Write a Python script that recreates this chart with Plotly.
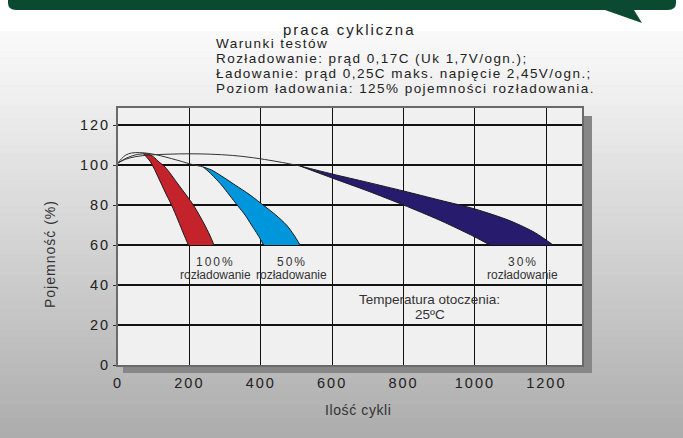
import plotly.graph_objects as go

# ---------------- data ----------------
x_ticks = [0, 200, 400, 600, 800, 1000, 1200]
y_ticks = [0, 20, 40, 60, 80, 100, 120]

# thin initial curves (cycles, capacity %)
line_red_x = [0, 12, 25, 40, 55, 71]
line_red_v = [101, 102.3, 103.6, 104.6, 105.3, 105.6]
line_blue_x = [0, 10, 22, 38, 60, 90, 120, 150, 180, 205, 225, 239]
line_blue_v = [101, 103.2, 105.0, 106.0, 106.2, 105.7, 104.6, 103.2, 101.7, 100.4, 99.6, 99.0]
line_purple_x = [0, 20, 50, 90, 140, 200, 260, 320, 380, 440, 480, 510]
line_purple_v = [101, 102.8, 104.2, 105.0, 105.4, 105.6, 105.4, 104.8, 103.6, 101.9, 100.6, 99.5]

# 100% discharge band
red_left_x = [71, 80, 90, 99, 115, 132, 150, 168, 184, 197]
red_left_v = [105.6, 104, 101.8, 99, 93, 86.5, 80, 72.5, 65.5, 60]
red_right_x = [71, 85, 100, 115, 132, 170, 211, 240, 257, 269]
red_right_v = [105.6, 105.5, 104, 101.5, 99, 90, 80, 71, 65, 60]

# 50% discharge band
blue_left_x = [239, 255, 272, 290, 312, 336, 356, 374, 392, 408]
blue_left_v = [99, 96.5, 93.5, 90, 85, 79.5, 75, 70, 65, 60]
blue_right_x = [239, 262, 290, 328, 370, 410, 442, 472, 493, 510]
blue_right_v = [99, 97.5, 94.5, 90, 85, 79.5, 75, 70, 65, 60]

# 30% discharge band
purple_top_x = [510, 600, 700, 800, 900, 1000, 1100, 1170, 1219]
purple_top_v = [99.5, 95.5, 91.3, 87, 82.5, 78, 72, 66, 60]
purple_bot_x = [510, 600, 700, 800, 900, 960, 1000, 1042]
purple_bot_v = [99.5, 93.5, 87, 80, 72.5, 67.5, 64, 60]

conditions = [
    "Warunki testów",
    "Rozładowanie: prąd 0,17C (Uk 1,7V/ogn.);",
    "Ładowanie: prąd 0,25C maks. napięcie 2,45V/ogn.;",
    "Poziom ładowania: 125% pojemności rozładowania.",
]

# ---------------- layout helpers ----------------
W, H = 683, 438
L, R, T, B = 118, 582, 108, 365


def px(xp):
    return (xp - L) / (R - L)


def py(yp):
    return (B - yp) / (B - T)


def sp(text, ls):
    return '<span style="letter-spacing:%spx">%s</span>' % (ls, text)


FONT = "Liberation Sans"
TXT = "#222222"

fig = go.Figure()


def band(xa, va, xb, vb, color):
    edge = dict(color="#1a1a1a", width=1, shape="spline", smoothing=0.8)
    fig.add_trace(go.Scatter(x=xa, y=va, mode="lines", line=edge,
                             hoverinfo="skip", showlegend=False))
    fig.add_trace(go.Scatter(x=xb, y=vb, mode="lines", line=edge, fill="tonexty",
                             fillcolor=color, hoverinfo="skip", showlegend=False))


band(red_left_x, red_left_v, red_right_x, red_right_v, "#c4232b")
band(blue_left_x, blue_left_v, blue_right_x, blue_right_v, "#0096dc")
band(purple_top_x, purple_top_v, purple_bot_x, purple_bot_v, "#271b6e")

for xs, vs in [(line_red_x, line_red_v), (line_blue_x, line_blue_v),
               (line_purple_x, line_purple_v)]:
    fig.add_trace(go.Scatter(x=xs, y=vs, mode="lines",
                             line=dict(color="#333333", width=1, shape="spline"),
                             hoverinfo="skip", showlegend=False))

shapes = []
# white top area
shapes.append(dict(type="rect", xref="paper", yref="paper", x0=px(0), x1=px(W), y0=py(31), y1=py(0),
                   fillcolor="white", line=dict(width=0), layer="below"))
# vertical gradient background
stops = [(31, (250, 250, 250)), (100, (238, 238, 238)), (250, (210, 210, 210)), (438, (172, 172, 172))]


def col_at(yp):
    for (y0, c0), (y1, c1) in zip(stops[:-1], stops[1:]):
        if y0 <= yp <= y1:
            t = (yp - y0) / (y1 - y0)
            return "rgb(%d,%d,%d)" % tuple(round(a + (b - a) * t) for a, b in zip(c0, c1))
    return "rgb(172,172,172)"


n = 60
for i in range(n):
    y0 = 31 + (438 - 31) * i / n
    y1 = 31 + (438 - 31) * (i + 1) / n
    shapes.append(dict(type="rect", xref="paper", yref="paper", x0=px(0), x1=px(W),
                       y0=py(y1 + 0.5), y1=py(y0), fillcolor=col_at((y0 + y1) / 2),
                       line=dict(width=0), layer="below"))
# shadow
shapes.append(dict(type="rect", xref="paper", yref="paper", x0=px(123), x1=px(592), y0=py(373), y1=py(116),
                   fillcolor="#878787", line=dict(width=0), layer="below"))
# plot area
shapes.append(dict(type="rect", xref="paper", yref="paper", x0=0, x1=1, y0=0, y1=1,
                   fillcolor="#f0f0f0", line=dict(width=0), layer="below"))
# banner with tail
pts = "M %f,%f L %f,%f Q %f,%f %f,%f L %f,%f L %f,%f L %f,%f L %f,%f Q %f,%f %f,%f L %f,%f Z" % (
    px(8), py(-12), px(8), py(3), px(8), py(10), px(16), py(10),
    px(605), py(10), px(642), py(23), px(634), py(10),
    px(668), py(10), px(676), py(10), px(676), py(3), px(676), py(-12))
shapes.append(dict(type="path", xref="paper", yref="paper", path=pts,
                   fillcolor="#0b4a31", line=dict(width=0), layer="above"))

annotations = []
annotations.append(dict(text=sp("praca cykliczna", 2), xref="paper", yref="paper", x=px(349), y=py(29),
                        showarrow=False, font=dict(family=FONT, size=15, color=TXT),
                        xanchor="center", yanchor="middle"))
for i, line in enumerate(conditions):
    annotations.append(dict(text=sp(line, 1.45), xref="paper", yref="paper", x=px(214), y=py(43 + 15 * i),
                            showarrow=False, font=dict(family=FONT, size=13.5, color=TXT),
                            xanchor="left", yanchor="middle"))

lab_font = dict(family=FONT, size=12, color="#333333")
for cx, pct in [(272, "100%"), (487, "50%"), (1134, "30%")]:
    annotations.append(dict(text=sp(pct, 2), x=cx, y=51.5, xref="x", yref="y", showarrow=False,
                            font=lab_font, xanchor="center", yanchor="middle"))
    annotations.append(dict(text="rozładowanie", x=cx, y=45, xref="x", yref="y", showarrow=False,
                            font=lab_font, xanchor="center", yanchor="middle"))
annotations.append(dict(text="Temperatura otoczenia:", x=874, y=33, xref="x", yref="y", showarrow=False,
                        font=dict(family=FONT, size=13.5, color="#333333"),
                        xanchor="center", yanchor="middle"))
annotations.append(dict(text="25ºC", x=874, y=25.5, xref="x", yref="y", showarrow=False,
                        font=dict(family=FONT, size=13.5, color="#333333"),
                        xanchor="center", yanchor="middle"))
annotations.append(dict(text=sp("Pojemność (%)", 1), xref="paper", yref="paper", x=px(50), y=py(254),
                        textangle=-90, showarrow=False, font=dict(family=FONT, size=14, color="#333333"),
                        xanchor="center", yanchor="middle"))
annotations.append(dict(text=sp("Ilość cykli", 0.6), xref="paper", yref="paper", x=px(358), y=py(410),
                        showarrow=False, font=dict(family=FONT, size=14, color="#333333"),
                        xanchor="center", yanchor="middle"))

fig.update_layout(
    width=W, height=H,
    margin=dict(l=L, r=W - R, t=T, b=H - B, pad=0),
    paper_bgcolor="#c8c8c8", plot_bgcolor="rgba(0,0,0,0)",
    shapes=shapes, annotations=annotations, showlegend=False,
    xaxis=dict(range=[0, 1300], tickvals=x_ticks, ticktext=[sp(str(v), 2) for v in x_ticks],
               showgrid=True, gridcolor="#111111", gridwidth=1, zeroline=False,
               showline=True, linecolor="#6a6a6a", linewidth=2, mirror=True,
               ticks="outside", ticklen=4, tickcolor="rgba(0,0,0,0)",
               tickfont=dict(family=FONT, size=14.5, color="#222222")),
    yaxis=dict(range=[0, 128.5], tickvals=y_ticks, ticktext=[sp(str(v), 2) for v in y_ticks],
               showgrid=True, gridcolor="#111111", gridwidth=2, zeroline=False,
               showline=True, linecolor="#6a6a6a", linewidth=2, mirror=True,
               ticks="outside", ticklen=3, tickcolor="#333333", tickwidth=1,
               tickfont=dict(family=FONT, size=14.5, color="#222222")),
)

fig.write_html("out.html", config={"displayModeBar": False},
               post_script="document.body.style.margin='0';")
